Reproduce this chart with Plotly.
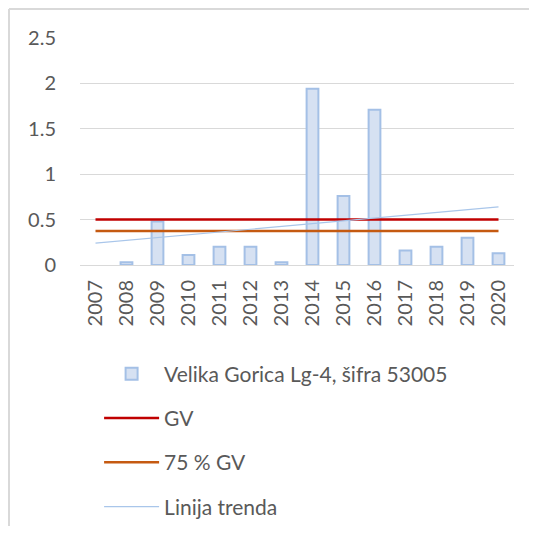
import plotly.graph_objects as go

years = ["2007", "2008", "2009", "2010", "2011", "2012", "2013",
         "2014", "2015", "2016", "2017", "2018", "2019", "2020"]
values = [None, 0.03, 0.48, 0.11, 0.20, 0.20, 0.03,
          1.94, 0.76, 1.71, 0.16, 0.20, 0.30, 0.13]
gv = [0.5] * len(years)
gv75 = [0.375] * len(years)
trend_years = ["2007", "2020"]
trend_values = [0.24, 0.64]

FONT = "Lato"
GREY = "#595959"

fig = go.Figure()
fig.add_trace(go.Bar(
    x=years, y=values, name="Velika Gorica Lg-4, šifra 53005",
    marker=dict(color="#D6E1F2", line=dict(color="#A4C0E6", width=2)),
    width=0.38, legendgroup="a",
))
fig.add_trace(go.Scatter(
    x=years, y=gv, mode="lines", name="GV",
    line=dict(color="#C00000", width=2.5), legendgroup="b",
))
fig.add_trace(go.Scatter(
    x=years, y=gv75, mode="lines", name="75 % GV",
    line=dict(color="#C55A11", width=2.5), legendgroup="c",
))
fig.add_trace(go.Scatter(
    x=trend_years, y=trend_values, mode="lines", name="Linija trenda",
    line=dict(color="#A9C6EA", width=1.2), legendgroup="d",
))

# the page body adds 8px around the figure, so the figure is 16px smaller
border = dict(color="#D9D9D9", width=2)
fig.update_layout(
    width=521, height=518,
    margin=dict(l=72, r=15, t=30, b=261, autoexpand=False),
    paper_bgcolor="white", plot_bgcolor="white",
    font=dict(family=FONT, size=20, color=GREY),
    showlegend=True,
    legend=dict(
        orientation="v", x=0.044, xanchor="left", y=-0.39, yanchor="top",
        tracegroupgap=14, itemwidth=55,
        font=dict(family=FONT, size=21, color=GREY),
        bgcolor="rgba(0,0,0,0)",
    ),
    shapes=[
        dict(type="line", xref="paper", yref="paper",
             x0=-0.1636, x1=1.1, y0=1.1278, y1=1.1278, line=border),
        dict(type="line", xref="paper", yref="paper",
             x0=-0.1636, x1=-0.1636, y0=-1.2, y1=1.1278, line=border),
    ],
)
fig.update_xaxes(
    type="category", categoryorder="array", categoryarray=years,
    tickangle=-90, showgrid=False, showline=False, ticks="",
    tickfont=dict(family=FONT, size=20, color=GREY), ticklabelstandoff=10,
)
fig.update_yaxes(
    range=[0, 2.5], dtick=0.5,
    showgrid=True, gridcolor="#D9D9D9", gridwidth=1,
    zeroline=True, zerolinecolor="#D9D9D9", zerolinewidth=1,
    showline=False, ticks="", ticklabelstandoff=23,
    tickfont=dict(family=FONT, size=20, color=GREY),
)

fig.write_html("out.html")
